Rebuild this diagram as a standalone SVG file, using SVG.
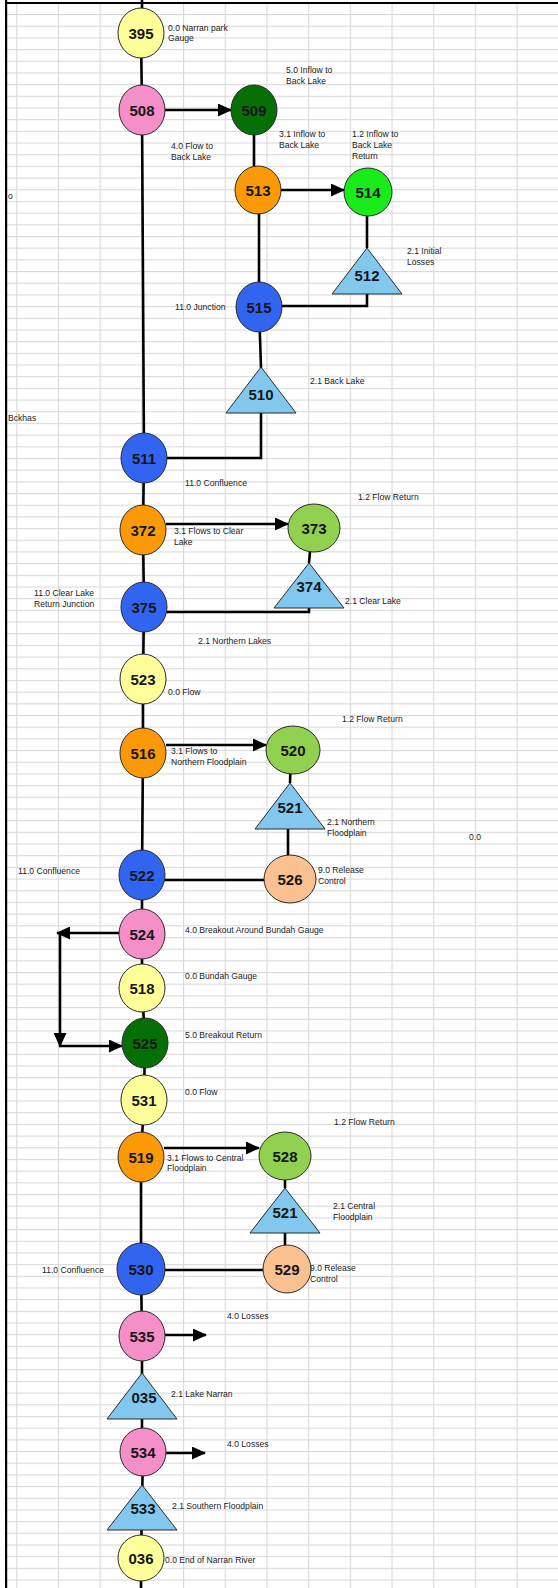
<svg xmlns="http://www.w3.org/2000/svg" width="558" height="1588" viewBox="0 0 558 1588">
<style>
.nd{stroke:#2a2a2a;stroke-width:1}
.y{fill:#ffff99}.p{fill:#f58fc8}.dg{fill:#067006}.o{fill:#fb9a06}.bg{fill:#1aeb1a}.b{fill:#3264f2}.lg{fill:#92d050}.pc{fill:#fac08f}.t{fill:#82c8ee}
.n{font-family:"Liberation Sans",Arial,sans-serif;font-weight:bold;font-size:15px;text-anchor:middle;fill:#161616}
.l{font-family:"Liberation Sans",Arial,sans-serif;font-size:8.6px;fill:#222}
.e{stroke:#000;stroke-width:2.6;fill:none}
.a{marker-end:url(#ah)}
</style>
<defs>
<pattern id="grid" patternUnits="userSpaceOnUse" x="16.2" y="2.317" width="41.7" height="11.683">
<rect x="0" y="0" width="41.7" height="11.683" fill="#ffffff"/>
<rect x="0" y="0" width="1.1" height="11.683" fill="#d9d9d9"/>
<rect x="0" y="0" width="41.7" height="1.1" fill="#d9d9d9"/>
</pattern>
<marker id="ah" markerUnits="userSpaceOnUse" markerWidth="14" markerHeight="13" refX="13" refY="6.5" orient="auto">
<path d="M0,0 L14,6.5 L0,13 Z" fill="#000"/>
</marker>
</defs>
<rect x="0" y="0" width="558" height="1588" fill="#fff"/>
<rect x="7" y="4" width="551" height="1584" fill="url(#grid)"/>
<rect x="5" y="0" width="2.2" height="1588" fill="#000"/>
<rect x="5" y="2" width="553" height="2" fill="#000"/>

<g id="connectors">
<path class="e" d="M142,0 V33"/>
<path class="e" d="M141,33 L142,110"/>
<path class="e a" d="M165,110 H231"/>
<path class="e" d="M142,110 L144,458"/>
<path class="e" d="M254,110 V190"/>
<path class="e a" d="M281,190 H344"/>
<path class="e" d="M367,193 V248"/>
<path class="e" d="M259,190 V307"/>
<path class="e" d="M259,306 H367 V294"/>
<path class="e" d="M259,307 L261,368"/>
<path class="e" d="M261,413 V458 H144"/>
<path class="e" d="M144,458 L143,530"/>
<path class="e a" d="M166,524 H288"/>
<path class="e" d="M312,529 L309,563"/>
<path class="e" d="M143,530 L144,607"/>
<path class="e" d="M144,612 H309 V608"/>
<path class="e" d="M144,607 L143,679"/>
<path class="e" d="M143,679 V753"/>
<path class="e a" d="M166,745 H266"/>
<path class="e" d="M291,751 L290,783"/>
<path class="e" d="M288,829 V876"/>
<path class="e" d="M143,753 L142,874"/>
<path class="e" d="M142,880 H288"/>
<path class="e" d="M142,874 V986"/>
<path class="e" d="M142,986 L145,1042"/>
<path class="e" d="M145,1042 L144,1100"/>
<path class="e" d="M144,1100 L141,1158"/>
<path class="e a" d="M119,933 H57"/>
<path class="e a" d="M60,933 V1046"/>
<path class="e a" d="M59,1046 H122"/>
<path class="e a" d="M164,1148 H259"/>
<path class="e" d="M285,1157 V1188"/>
<path class="e" d="M285,1233 V1268"/>
<path class="e" d="M141,1158 V1271"/>
<path class="e" d="M141,1270 H287"/>
<path class="e" d="M141,1271 L142,1336"/>
<path class="e a" d="M165,1335 H206"/>
<path class="e" d="M142,1336 V1452"/>
<path class="e a" d="M166,1453 H205"/>
<path class="e" d="M143,1452 L141,1558"/>
<path class="e" d="M141,1558 V1588"/>
</g>

<g id="n395"><ellipse class="nd y" cx="141" cy="33" rx="23" ry="25"/><text class="n" x="141" y="38.5">395</text></g>
<g id="n508"><ellipse class="nd p" cx="142" cy="110" rx="23" ry="25"/><text class="n" x="142" y="115.5">508</text></g>
<g id="n509"><ellipse class="nd dg" cx="254" cy="110" rx="23" ry="25"/><text class="n" x="254" y="115.5">509</text></g>
<g id="n513"><ellipse class="nd o" cx="258" cy="190" rx="23" ry="24"/><text class="n" x="258" y="195.5">513</text></g>
<g id="n514"><ellipse class="nd bg" cx="368" cy="192" rx="24" ry="24"/><text class="n" x="368" y="197.5">514</text></g>
<g id="n512"><polygon class="nd t" points="367,248 402,294 332,294"/><text class="n" x="367" y="280.5">512</text></g>
<g id="n515"><ellipse class="nd b" cx="259" cy="307" rx="23" ry="25"/><text class="n" x="259" y="312.5">515</text></g>
<g id="n510"><polygon class="nd t" points="261,367 296,413 226,413"/><text class="n" x="261" y="399.5">510</text></g>
<g id="n511"><ellipse class="nd b" cx="144" cy="458" rx="23" ry="25"/><text class="n" x="144" y="463.5">511</text></g>
<g id="n372"><ellipse class="nd o" cx="143" cy="530" rx="23" ry="25"/><text class="n" x="143" y="535.5">372</text></g>
<g id="n373"><ellipse class="nd lg" cx="314" cy="528" rx="26" ry="24"/><text class="n" x="314" y="533.5">373</text></g>
<g id="n374"><polygon class="nd t" points="309,563 344,608 274,608"/><text class="n" x="309" y="591.5">374</text></g>
<g id="n375"><ellipse class="nd b" cx="144" cy="607" rx="23" ry="25"/><text class="n" x="144" y="612.5">375</text></g>
<g id="n523"><ellipse class="nd y" cx="143" cy="679" rx="23" ry="25"/><text class="n" x="143" y="684.5">523</text></g>
<g id="n516"><ellipse class="nd o" cx="143" cy="753" rx="23" ry="25"/><text class="n" x="143" y="758.5">516</text></g>
<g id="n520"><ellipse class="nd lg" cx="293" cy="750" rx="27" ry="24"/><text class="n" x="293" y="755.5">520</text></g>
<g id="n521a"><polygon class="nd t" points="290,783 325,829 255,829"/><text class="n" x="290" y="812.5">521</text></g>
<g id="n526"><ellipse class="nd pc" cx="290" cy="879" rx="26" ry="24"/><text class="n" x="290" y="884.5">526</text></g>
<g id="n522"><ellipse class="nd b" cx="142" cy="875" rx="23" ry="25"/><text class="n" x="142" y="880.5">522</text></g>
<g id="n524"><ellipse class="nd p" cx="142" cy="934" rx="23" ry="25"/><text class="n" x="142" y="939.5">524</text></g>
<g id="n518"><ellipse class="nd y" cx="142" cy="988" rx="23" ry="24"/><text class="n" x="142" y="993.5">518</text></g>
<g id="n525"><ellipse class="nd dg" cx="145" cy="1043" rx="23" ry="25"/><text class="n" x="145" y="1048.5">525</text></g>
<g id="n531"><ellipse class="nd y" cx="144" cy="1100" rx="23" ry="25"/><text class="n" x="144" y="1105.5">531</text></g>
<g id="n519"><ellipse class="nd o" cx="141" cy="1157" rx="23" ry="25"/><text class="n" x="141" y="1162.5">519</text></g>
<g id="n528"><ellipse class="nd lg" cx="285" cy="1156" rx="26" ry="24"/><text class="n" x="285" y="1161.5">528</text></g>
<g id="n521b"><polygon class="nd t" points="285,1188 320,1233 250,1233"/><text class="n" x="285" y="1217.5">521</text></g>
<g id="n529"><ellipse class="nd pc" cx="287" cy="1269" rx="24" ry="24"/><text class="n" x="287" y="1274.5">529</text></g>
<g id="n530"><ellipse class="nd b" cx="141" cy="1269" rx="24" ry="26"/><text class="n" x="141" y="1274.5">530</text></g>
<g id="n535"><ellipse class="nd p" cx="142" cy="1336" rx="23" ry="25"/><text class="n" x="142" y="1341.5">535</text></g>
<g id="n035"><polygon class="nd t" points="142,1373 177,1419 107,1419"/><text class="n" x="144" y="1402.5">035</text></g>
<g id="n534"><ellipse class="nd p" cx="143" cy="1452" rx="23" ry="24"/><text class="n" x="143" y="1457.5">534</text></g>
<g id="n533"><polygon class="nd t" points="142,1485 177,1530 107,1530"/><text class="n" x="143" y="1513.5">533</text></g>
<g id="n036"><ellipse class="nd y" cx="141" cy="1558" rx="23" ry="23"/><text class="n" x="141" y="1563.5">036</text></g>

<g id="labels">
<text class="l" x="168" y="31">0.0 Narran park</text><text class="l" x="168" y="41">Gauge</text>
<text class="l" x="286" y="73">5.0 Inflow to</text><text class="l" x="286" y="84">Back Lake</text>
<text class="l" x="171" y="149">4.0 Flow to</text><text class="l" x="171" y="160">Back Lake</text>
<text class="l" x="279" y="137">3.1 Inflow to</text><text class="l" x="279" y="148">Back Lake</text>
<text class="l" x="352" y="137">1.2 Inflow to</text><text class="l" x="352" y="148">Back Lake</text><text class="l" x="352" y="159">Return</text>
<text class="l" x="8" y="199">o</text>
<text class="l" x="407" y="254">2.1 Initial</text><text class="l" x="407" y="265">Losses</text>
<text class="l" x="175" y="310">11.0 Junction</text>
<text class="l" x="310" y="384">2.1 Back Lake</text>
<text class="l" x="8" y="421">Bckhas</text>
<text class="l" x="185" y="486">11.0 Confluence</text>
<text class="l" x="358" y="500">1.2 Flow Return</text>
<text class="l" x="174" y="534">3.1 Flows to Clear</text><text class="l" x="174" y="545">Lake</text>
<text class="l" x="345" y="604">2.1 Clear Lake</text>
<text class="l" x="34" y="596">11.0 Clear Lake</text><text class="l" x="34" y="607">Return Junction</text>
<text class="l" x="198" y="644">2.1 Northern Lakes</text>
<text class="l" x="168" y="695">0.0 Flow</text>
<text class="l" x="342" y="722">1.2 Flow Return</text>
<text class="l" x="171" y="754">3.1 Flows to</text><text class="l" x="171" y="765">Northern Floodplain</text>
<text class="l" x="327" y="825">2.1 Northern</text><text class="l" x="327" y="836">Floodplain</text>
<text class="l" x="469" y="840">0.0</text>
<text class="l" x="318" y="873">9.0 Release</text><text class="l" x="318" y="884">Control</text>
<text class="l" x="18" y="874">11.0 Confluence</text>
<text class="l" x="185" y="933">4.0 Breakout Around Bundah Gauge</text>
<text class="l" x="185" y="979">0.0 Bundah Gauge</text>
<text class="l" x="185" y="1038">5.0 Breakout Return</text>
<text class="l" x="185" y="1095">0.0 Flow</text>
<text class="l" x="334" y="1125">1.2 Flow Return</text>
<text class="l" x="167" y="1161">3.1 Flows to Central</text><text class="l" x="167" y="1171">Floodplain</text>
<text class="l" x="333" y="1209">2.1 Central</text><text class="l" x="333" y="1220">Floodplain</text>
<text class="l" x="310" y="1271">9.0 Release</text><text class="l" x="310" y="1282">Control</text>
<text class="l" x="42" y="1273">11.0 Confluence</text>
<text class="l" x="227" y="1319">4.0 Losses</text>
<text class="l" x="171" y="1397">2.1 Lake Narran</text>
<text class="l" x="227" y="1447">4.0 Losses</text>
<text class="l" x="172" y="1509">2.1 Southern Floodplain</text>
<text class="l" x="165" y="1563">0.0 End of Narran River</text>
</g>
</svg>
